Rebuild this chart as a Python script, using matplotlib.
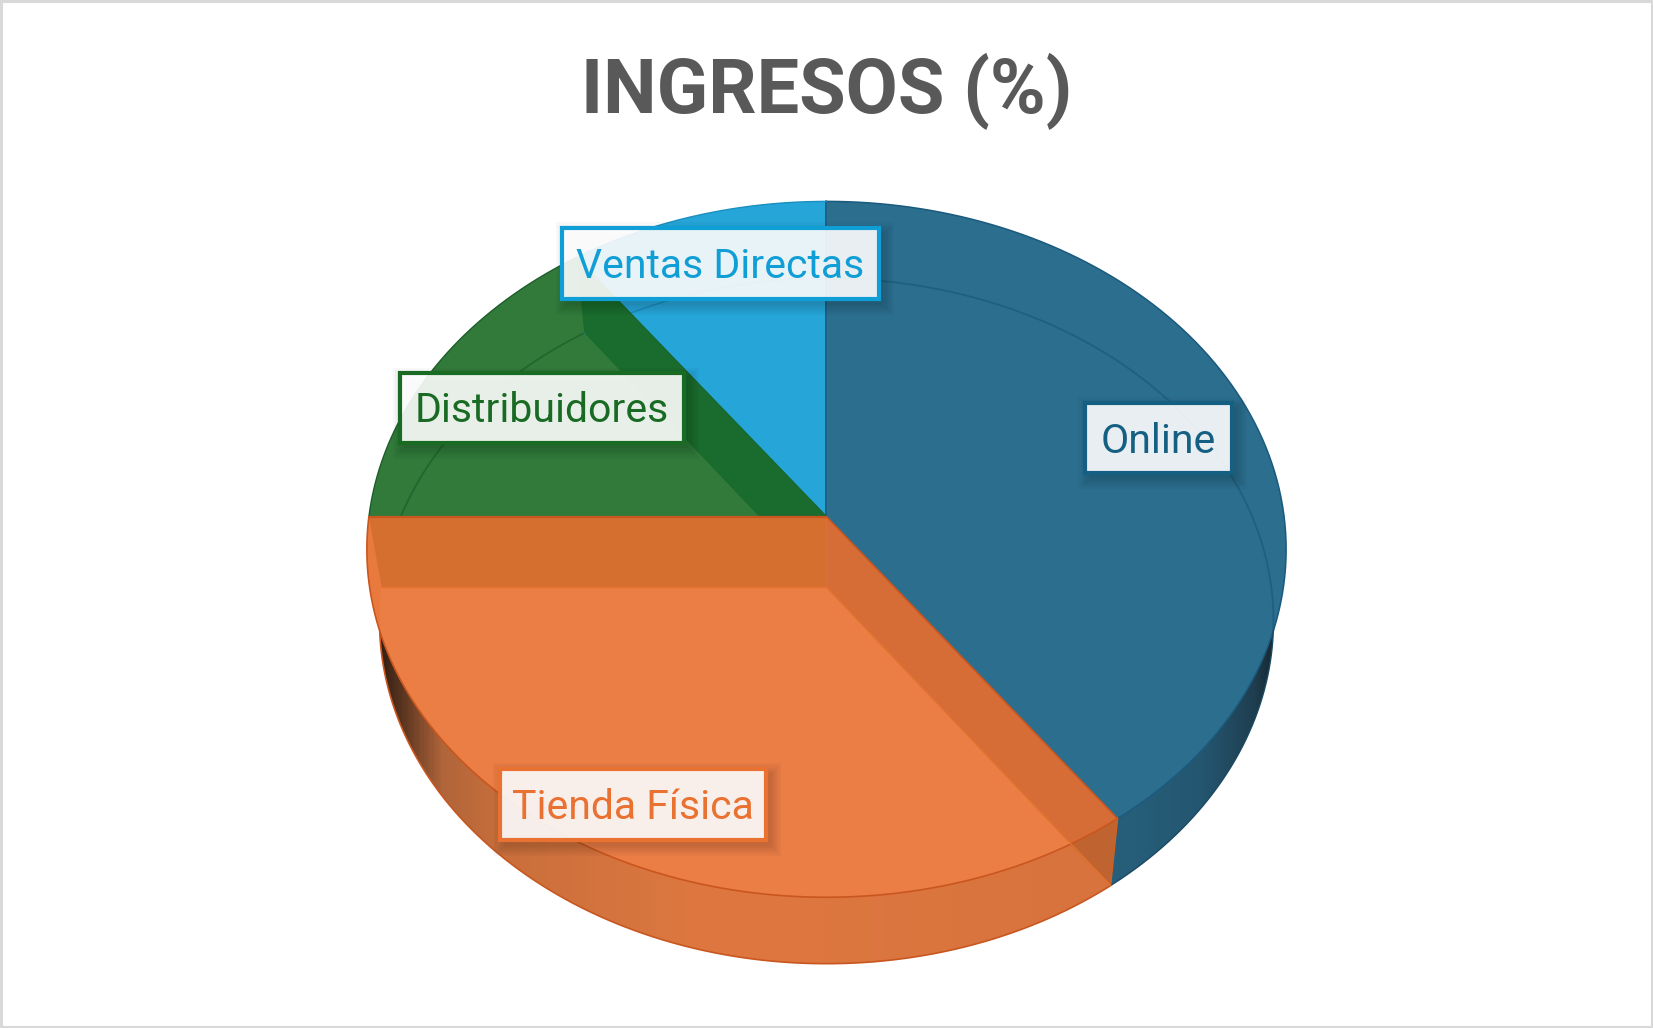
import numpy as np
import matplotlib
matplotlib.use("Agg")
import matplotlib.pyplot as plt
from matplotlib.colors import LinearSegmentedColormap
from matplotlib.patches import Polygon, Rectangle

# Slices, clockwise from 12 o'clock
labels = ["Online", "Tienda Física", "Distribuidores", "Ventas Directas"]
values = [40, 35, 15, 10]
title = "INGRESOS (%)"

# theme colours
line_colors = ["#156082", "#E97132", "#196B24", "#0F9ED5"]
face_colors = ["#2C6E8E", "#EB7E45", "#317A3A", "#26A5D8"]

# the two rims of the tilted disc, in picture units (1568 wide)
TOP = dict(cx=784, cy=521, a=436, b=330, k=0.0939)
BOT = dict(cx=784, cy=589, a=424, b=325, k=0.0985)


def rim(e, deg):
    # perspective map of the unit circle, so slice angles stay true
    t = np.radians(deg)
    u, v = np.sin(t), np.cos(t)
    d = 1 + e["k"] * v
    x = e["cx"] + e["a"] * np.sqrt(1 - e["k"] ** 2) * u / d
    y = e["cy"] - e["b"] * (v + e["k"]) / d
    return np.column_stack([np.atleast_1d(x), np.atleast_1d(y)])


def apex(e):
    return np.array([[e["cx"], e["cy"] - e["b"] * e["k"]]])


def inside(e, pts):
    return ((pts[:, 0] - e["cx"]) / e["a"]) ** 2 + ((pts[:, 1] - e["cy"]) / e["b"]) ** 2 < 1


def arc(e, d0, d1, n=200):
    return rim(e, np.linspace(d0, d1, n))


def fill(pts, color, z, **kw):
    ax.add_patch(Polygon(pts, closed=True, facecolor=color, edgecolor="none", zorder=z, **kw))


def stroke(pts, color, lw, z, alpha=1.0):
    ax.plot(pts[:, 0], pts[:, 1], color=color, lw=lw, zorder=z, alpha=alpha, solid_capstyle="round")


def gradient_fill(pts, x0, x1, stops, z):
    cmap = LinearSegmentedColormap.from_list("g", stops)
    y0, y1 = pts[:, 1].min(), pts[:, 1].max()
    im = ax.imshow(np.linspace(0, 1, 400)[None, :], cmap=cmap, extent=[x0, x1, y1, y0],
                   aspect="auto", zorder=z, interpolation="bilinear")
    im.set_clip_path(Polygon(pts, closed=True, transform=ax.transData))


fig = plt.figure(figsize=(16.53, 10.28), dpi=100)
ax = fig.add_axes([0, 0, 1, 1])
ax.axis("off")

edges = np.cumsum([0] + values) * 3.6
a_on, a_ti, a_di = edges[1], edges[2], edges[3]
top_apex, bot_apex = apex(TOP), apex(BOT)

# where the two rims cross, right side
scan = np.linspace(a_on, 60, 1200)
th_r_bot = scan[np.argmax(inside(TOP, rim(BOT, scan)))]
th_r_top = scan[np.argmax(~inside(BOT, rim(TOP, scan)))]
# and left side
scan = np.linspace(a_ti, a_on, 1200)
th_l_top = scan[np.argmax(inside(BOT, rim(TOP, scan)))]
th_l_bot = scan[np.argmax(~inside(TOP, rim(BOT, scan)))]

# upper faces
for i in [0, 3, 2]:
    fill(np.vstack([top_apex, arc(TOP, edges[i], edges[i + 1])]), face_colors[i], 2)

# floor rim seen through the faces
stroke(arc(BOT, 0, th_r_bot), "#1F6080", 1.3, 3)
stroke(arc(BOT, a_ti, a_di), "#20672D", 1.3, 3)
stroke(arc(BOT, a_di, 360), "#1B8FC0", 1.2, 3)

# dark cut face of the green slice
fill(np.vstack([top_apex, rim(TOP, a_di), rim(BOT, a_di), bot_apex]), "#196B2E", 4)

# side walls
blue_wall = np.vstack([arc(BOT, a_on, th_r_bot), arc(TOP, th_r_top, a_on)])
gradient_fill(blue_wall, 1050, 1215,
              [(0, "#27607C"), (0.55, "#245670"), (0.85, "#1F3E50"), (1, "#141E24")], 5)
orange_wall = np.vstack([arc(BOT, th_l_bot, a_on), arc(TOP, a_on, th_l_top)])
gradient_fill(orange_wall, 355, 1060,
              [(0, "#2A1910"), (0.035, "#5A3520"), (0.09, "#B0653A"), (0.17, "#C96F3C"),
               (0.45, "#DF7840"), (1, "#D8733E")], 5)

# orange slice
fill(np.vstack([top_apex, arc(TOP, a_on, a_ti)]), face_colors[1], 6)
fill(np.vstack([arc(TOP, a_ti, th_l_top), arc(BOT, th_l_bot, a_ti)]), "#E97A3E", 6)
fill(np.vstack([top_apex, rim(TOP, a_ti), rim(BOT, a_ti), bot_apex]), "#D46F30", 7)
fill(np.vstack([top_apex, rim(TOP, a_on), rim(BOT, a_on), bot_apex]), "#D66D37", 7)

# darker corner where the cut face passes below the upper rim
p0, p1 = bot_apex[0], rim(BOT, a_on)[0]
scan = np.linspace(a_on, a_ti, 800)
pts = rim(TOP, scan)
side = (p1[0] - p0[0]) * (pts[:, 1] - p0[1]) - (p1[1] - p0[1]) * (pts[:, 0] - p0[0])
th_cross = scan[np.argmax(side > 0)]
fill(np.vstack([arc(TOP, a_on, th_cross, 60), rim(BOT, a_on)]), "#BF6330", 8)

# outlines
stroke(np.vstack([top_apex, [top_apex[0, 0], rim(TOP, 0)[0, 1]]]), "#1A5A7E", 1.3, 9)
stroke(np.vstack([top_apex, rim(TOP, a_di)]), "#176029", 1.0, 3.5)
stroke(arc(TOP, 0, a_on), "#1A5A7E", 1.1, 9)
stroke(arc(TOP, a_ti, a_di), "#1D5E2B", 1.0, 9)
stroke(arc(TOP, a_di, 360), "#1B8FC0", 1.0, 9)
stroke(arc(BOT, a_on, th_r_bot), "#1A4A62", 1.0, 9)
stroke(arc(TOP, a_on, a_ti), "#C9561F", 1.2, 9)
stroke(arc(BOT, th_l_bot, a_on), "#C9561F", 1.2, 9)
stroke(np.vstack([top_apex, rim(TOP, a_ti)]), "#C9561F", 1.6, 9)
stroke(np.vstack([top_apex, rim(TOP, a_on)]), "#C9561F", 1.2, 9)
stroke(np.vstack([rim(TOP, a_on), rim(BOT, a_on)]), "#D2601F", 1.0, 9)
stroke(np.vstack([bot_apex, rim(BOT, a_ti)]), "#E3722F", 1.0, 9)
stroke(np.vstack([bot_apex, rim(BOT, a_on)]), "#E3722F", 1.0, 9)

# data labels: x0, y0, width, height of the outer box
boxes = [(1029, 382, 140, 67), (474, 729, 253, 68), (379, 354, 270, 66), (533, 216, 301, 68)]
for name, col, (x, y, w, h) in zip(labels, line_colors, boxes):
    for grow in [20, 16, 12, 8, 4, 0]:
        ax.add_patch(Rectangle((x + 4 - grow / 2, y + 5 - grow / 2), w + grow, h + grow,
                               facecolor="black", edgecolor="none", alpha=0.028, zorder=10))
    ax.add_patch(Rectangle((x, y), w, h, facecolor=(1, 1, 1, 0.9), edgecolor=col, lw=3.0, zorder=11))
    ax.text(x + w / 2, y + h / 2 - 1, name, color=col, fontsize=29.5, ha="center", va="center_baseline",
            family="Roboto", zorder=12)

ax.text(784, 79, title, color="#595959", fontsize=54.5, fontweight="bold", ha="center", va="center_baseline",
        family="Roboto", zorder=12)

# chart border
ax.add_patch(Rectangle((1, 1), 1566, 973, facecolor="none", edgecolor="#D9D9D9", lw=2.2, zorder=20))

ax.set_xlim(0, 1568)
ax.set_ylim(975, 0)
fig.savefig("out.png", dpi=100, facecolor="white")
